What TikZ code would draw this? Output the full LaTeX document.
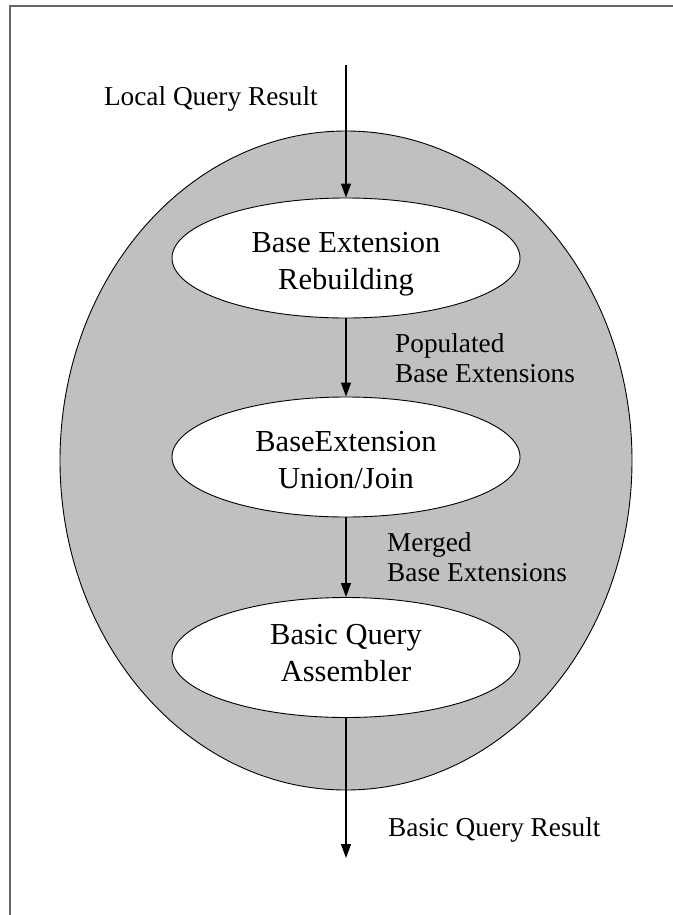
\documentclass[tikz,border=0pt]{standalone}
\usepackage{fontspec}
\setmainfont{Liberation Serif}
\usetikzlibrary{shapes.geometric,arrows.meta}
\definecolor{shade}{HTML}{C0C0C0}
\begin{document}
\begin{tikzpicture}[x=1pt,y=-1pt,
  stage/.style={ellipse,draw=black,line width=0.9pt,fill=white,inner sep=0pt,
    minimum width=348pt,minimum height=120pt,align=center,
    text height=62pt,text depth=0pt,
    font=\fontsize{30.5}{37}\selectfont},
  flowlabel/.style={inner sep=0pt,align=left,font=\fontsize{27.3}{30}\selectfont},
  flow/.style={line width=1.2pt,-{Triangle[length=14pt,width=10pt]}}]
  \useasboundingbox (0,0) rectangle (672,915);
  % page frame
  \draw[black!60,line width=1.8pt] (10,920) -- (10,6) -- (680,6);
  % enclosing process
  \node[ellipse,draw=black,line width=0.9pt,fill=shade,inner sep=0pt,
        minimum width=572pt,minimum height=659pt] (outer) at (346,460.5) {};
  % stages
  \node[stage] (e1) at (346,258) {Base Extension\\Rebuilding};
  \node[stage] (e2) at (346,457) {BaseExtension\\Union/Join};
  \node[stage,text height=47pt] (e3) at (346,657.5) {Basic Query\\Assembler};
  % input / output
  \coordinate (in) at (346,65);
  \coordinate (out) at (346,858);
  \draw[flow] (in) -- (e1.north);
  \draw[flow] (e1.south) -- (e2.north);
  \draw[flow] (e2.south) -- (e3.north);
  \draw[flow] (e3.south) -- (out);
  % labels
  \node[flowlabel,anchor=base east] (lin) at (318,106) {Local Query Result};
  \node[flowlabel,anchor=base west] (l12) at (395,382) {Populated\\Base Extensions};
  \node[flowlabel,anchor=base west] (l23) at (387,581) {Merged\\Base Extensions};
  \node[flowlabel,anchor=base west] (lout) at (388,836) {Basic Query Result};
\end{tikzpicture}
\end{document}
